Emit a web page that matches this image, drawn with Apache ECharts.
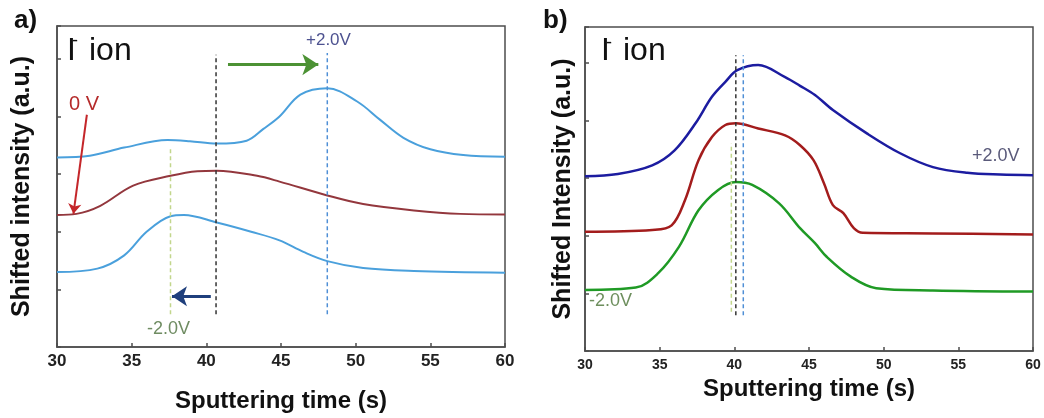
<!DOCTYPE html>
<html>
<head>
<meta charset="utf-8">
<script src="https://cdn.jsdelivr.net/npm/echarts@6/dist/echarts.min.js"></script>
<style>
  html, body { margin: 0; padding: 0; background: #fff; }
  #chart { width: 1044px; height: 418px; }
</style>
</head>
<body>
<div id="chart"></div>
<script>
// panel a: [time (s), shifted intensity]
const aPlus2V = [[30, 3.29], [32.2, 3.32], [34.5, 3.46], [37.4, 3.59], [38.9, 3.57], [40.7, 3.53], [42.7, 3.58],
  [43.8, 3.78], [44.9, 4.0], [46.3, 4.38], [48.1, 4.49], [50.1, 4.26], [51.6, 3.95], [53.2, 3.63], [55.0, 3.43],
  [57.2, 3.33], [60, 3.3]]
const a0V = [[30, 2.29], [31.3, 2.31], [32.9, 2.45], [35.1, 2.8], [37.6, 2.97], [39.4, 3.05], [40.7, 3.06],
  [43.4, 2.97], [44.9, 2.87], [48.1, 2.63], [50.5, 2.48], [53.9, 2.37], [57.0, 2.31], [60, 2.3]]
const aMinus2V = [[30, 1.3], [32.7, 1.36], [34.5, 1.59], [36.0, 2.0], [37.6, 2.27], [38.5, 2.29], [40.7, 2.16],
  [43.0, 2.0], [44.9, 1.85], [46.5, 1.65], [48.1, 1.49], [50.5, 1.37], [53.9, 1.32], [60, 1.29]]

// panel b
const bPlus2V = [[30, 3.03], [32.2, 3.07], [34.5, 3.22], [36.0, 3.48], [37.4, 3.95], [38.5, 4.41], [39.4, 4.67],
  [40.2, 4.87], [41.6, 4.96], [43.4, 4.75], [44.4, 4.6], [45.4, 4.44], [46.6, 4.18], [48.9, 3.77], [51.1, 3.43],
  [53.3, 3.19], [55.6, 3.09], [57.8, 3.06], [60, 3.05]]
const b0V = [[30, 2.07], [34.5, 2.1], [35.8, 2.18], [36.7, 2.62], [37.6, 3.31], [38.5, 3.71], [39.4, 3.92],
  [40.1, 3.95], [41.6, 3.86], [43.4, 3.74], [44.4, 3.57], [45.3, 3.31], [46.0, 2.91], [46.6, 2.53], [47.3, 2.39],
  [48.0, 2.13], [48.6, 2.05], [53.3, 2.04], [60, 2.02]]
const bMinus2V = [[30, 1.06], [33.4, 1.1], [34.9, 1.35], [36.3, 1.81], [37.6, 2.44], [38.9, 2.79], [40.1, 2.93],
  [41.2, 2.88], [43.0, 2.56], [44.4, 2.13], [45.4, 1.87], [46.2, 1.63], [47.8, 1.29], [49.5, 1.09], [53.3, 1.05],
  [60, 1.03]]

// dashed guide lines: x, top, bottom  (order: -2.0V, 0V, +2.0V)
const aGuideX = [37.6, 40.65, 48.1]
const aGuideTop = [3.48, 5.07, 5.1]
const aGuideBottom = [0.57, 0.57, 0.57]
const bGuideX = [39.8, 40.1, 40.6]
const bGuideTop = [3.6, 5.13, 5.13]
const bGuideBottom = [0.68, 0.62, 0.62]

// arrows in panel a: [from, to]  (shift to +2.0V, shift to -2.0V, 0 V pointer)
const aArrows = [[[41.45, 4.9], [47.5, 4.9]], [[40.3, 0.88], [37.7, 0.88]], [[32.0, 4.03], [31.1, 2.31]]]

const xTicks = [30, 35, 40, 45, 50, 55, 60]

const FONT = 'Liberation Sans, Arial, sans-serif'
const guideColors = ['#c2d68c', '#333333', '#4f8fd6']
const arrowColors = ['#4c9234', '#1f3f7c', '#c4262a']
const arrowWidths = [3, 3, 2]
const arrowSizes = [16, 15, 10]

function xAxisOf(gi, labelSize, margin, nameGap) {
  return {
    type: 'value', gridIndex: gi, min: xTicks[0], max: xTicks[xTicks.length - 1], interval: 5,
    axisLine: { show: true, lineStyle: { color: '#4d4d4d', width: 1.5 } },
    axisTick: { show: true, inside: true, length: 4, lineStyle: { color: '#4d4d4d', width: 1.5 } },
    splitLine: { show: false },
    axisLabel: { color: '#222', fontSize: labelSize, fontWeight: 'bold', fontFamily: FONT, margin: margin },
    name: 'Sputtering time (s)', nameLocation: 'middle', nameGap: nameGap,
    nameTextStyle: { color: '#111', fontSize: 24, fontWeight: 'bold', fontFamily: FONT }
  }
}

function yAxisOf(gi, max, name, nameGap) {
  return {
    type: 'value', gridIndex: gi, min: 0, max: max, interval: 1,
    axisLine: { show: true, lineStyle: { color: '#4d4d4d', width: 1.5 } },
    axisTick: { show: true, inside: true, length: 4, lineStyle: { color: '#4d4d4d', width: 1.5 } },
    splitLine: { show: false },
    axisLabel: { show: false },
    name: name, nameLocation: 'middle', nameGap: nameGap,
    nameTextStyle: { color: '#111', fontSize: 25, fontWeight: 'bold', fontFamily: FONT }
  }
}

function curve(gi, data, color, width) {
  return {
    type: 'line', xAxisIndex: gi, yAxisIndex: gi, data: data, showSymbol: false, symbol: 'none',
    smooth: 0.35, silent: true, z: 2,
    lineStyle: { color: color, width: width }
  }
}

function guides(gi, xs, tops, bottoms) {
  return xs.map(function(x, i) {
    return {
      type: 'line', xAxisIndex: gi, yAxisIndex: gi, data: [[x, bottoms[i]], [x, tops[i]]],
      showSymbol: false, symbol: 'none', silent: true, z: 3,
      lineStyle: { color: guideColors[i], width: 1.5, type: [4, 3] }
    }
  })
}

const arrowSeries = aArrows.map(function(a, i) {
  return {
    type: 'line', xAxisIndex: 0, yAxisIndex: 0, data: [], silent: true,
    markLine: {
      silent: true, symbol: ['none', 'arrow'], symbolSize: arrowSizes[i],
      label: { show: false }, emphasis: { disabled: true },
      lineStyle: { color: arrowColors[i], width: arrowWidths[i], type: 'solid' },
      data: [[{ coord: a[0] }, { coord: a[1] }]]
    }
  }
})

function txt(left, top, text, size, color, weight) {
  return {
    type: 'text', left: left, top: top,
    style: { text: text, font: (weight || 'normal') + ' ' + size + 'px ' + FONT, fill: color }
  }
}

// "I⁻ ion" built from three pieces so the minus sits high
function ionLabel(left, top, minusTop) {
  return [
    txt(left, top, 'I', 32, '#111'),
    txt(left + 5, minusTop, '-', 18, '#111'),
    txt(left + 22, top, 'ion', 32, '#111')
  ]
}

const chart = echarts.init(document.getElementById('chart'))
chart.setOption({
  backgroundColor: '#fff',
  animation: false,
  grid: [
    { left: 57, top: 26, width: 448, height: 323, show: true, borderColor: '#4d4d4d', borderWidth: 1.5 },
    { left: 585, top: 27, width: 448, height: 324, show: true, borderColor: '#4d4d4d', borderWidth: 1.5 }
  ],
  xAxis: [xAxisOf(0, 17, 6, 42), xAxisOf(1, 14, 7, 16)],
  yAxis: [yAxisOf(0, 5.57, 'Shifted intensity (a.u.)', 22), yAxisOf(1, 5.62, 'Shifted Intensity (a.u.)', 9)],
  series: [
    curve(0, aPlus2V, '#4aa0dc', 2),
    curve(0, a0V, '#93373d', 2),
    curve(0, aMinus2V, '#4aa0dc', 2),
    curve(1, bPlus2V, '#1c1ca0', 2.5),
    curve(1, b0V, '#a31c1c', 2.5),
    curve(1, bMinus2V, '#1f9a25', 2.5)
  ].concat(guides(0, aGuideX, aGuideTop, aGuideBottom))
    .concat(guides(1, bGuideX, bGuideTop, bGuideBottom))
    .concat(arrowSeries),
  graphic: [
    txt(14, 8, 'a)', 26, '#111', 'bold'),
    txt(543, 8, 'b)', 26, '#111', 'bold'),
    txt(69, 94, '0 V', 20, '#b52b2b'),
    txt(306, 32, '+2.0V', 17, '#4d5290'),
    txt(147, 320, '-2.0V', 18, '#6f8c62'),
    txt(972, 147, '+2.0V', 18, '#5a5a7a'),
    txt(589, 292, '-2.0V', 18, '#6e8f5e')
  ].concat(ionLabel(67, 35, 32)).concat(ionLabel(601, 35, 34))
})
</script>
</body>
</html>
